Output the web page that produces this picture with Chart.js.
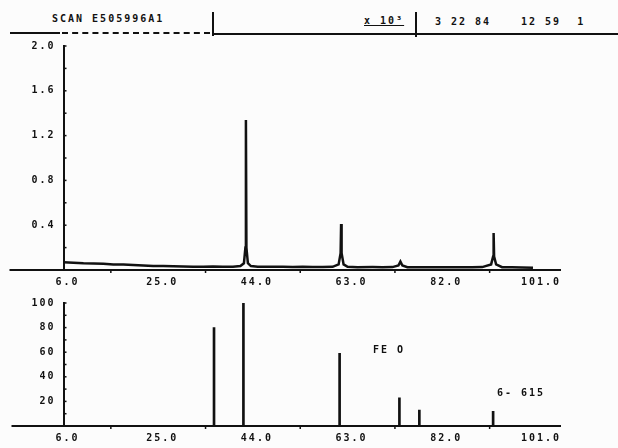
<!DOCTYPE html>
<html>
<head>
<meta charset="utf-8">
<script src="https://cdn.jsdelivr.net/npm/chart.js@4"></script>
<style>
body{margin:0;background:#fcfcfc;width:618px;height:448px;position:relative;overflow:hidden;
  font:bold 10px "DejaVu Sans Mono",monospace;color:#111;letter-spacing:2px}
.t{position:absolute;white-space:pre;line-height:10px}
.r{position:absolute;background:#111}
canvas{position:absolute;left:0}
</style>
</head>
<body>
<div class="t" style="left:52px;top:14px">SCAN E505996A1</div>
<div class="r" style="left:10px;top:32px;width:50px;height:2px"></div>
<div style="position:absolute;left:62px;top:32px;width:148px;border-top:2px dashed #111"></div>
<div class="r" style="left:212px;top:12px;width:2px;height:24px"></div>
<div class="r" style="left:213px;top:33px;width:405px;height:2px"></div>
<div class="t" style="left:364px;top:16px;text-decoration:underline">x 10³</div>
<div class="r" style="left:415px;top:12px;width:2px;height:25px"></div>
<div class="t" style="left:435px;top:17px">3 22 84</div>
<div class="t" style="left:521px;top:17px">12 59  1</div>

<canvas id="scanChart" width="618" height="300" style="top:0"></canvas>
<canvas id="refChart" width="618" height="186" style="top:262px"></canvas>

<div class="t" style="left:373px;top:345px">FE O</div>
<div class="t" style="left:497px;top:388px">6- 615</div>

<script>
"use strict";

// 1: data
const scanAngles = [6, 8, 10, 12, 14, 16, 18, 20, 22, 24, 26, 28, 30, 32, 34, 36, 38, 40, 41.5, 42.2, 42.5, 42.6, 42.7, 43.0, 43.6,
	45, 48, 50, 52, 54, 56, 58, 60, 61.2, 61.6, 61.7, 61.8, 62.2, 63, 65, 68, 70, 72, 73.2, 73.6, 74.0, 75,
	78, 80, 82, 85, 88, 90, 91.8, 92.2, 92.3, 92.4, 92.8, 94, 96, 98, 100.2];
const scanCounts = [0.07, 0.065, 0.06, 0.058, 0.055, 0.05, 0.048, 0.045, 0.04, 0.035, 0.035, 0.033, 0.032, 0.03, 0.03, 0.032, 0.03, 0.03, 0.035, 0.06, 0.2, 1.34, 0.2, 0.06, 0.035,
	0.03, 0.028, 0.03, 0.027, 0.028, 0.026, 0.027, 0.028, 0.05, 0.15, 0.41, 0.15, 0.05, 0.028, 0.025, 0.026, 0.025, 0.026, 0.04, 0.075, 0.04, 0.025,
	0.024, 0.025, 0.024, 0.025, 0.024, 0.026, 0.05, 0.12, 0.33, 0.12, 0.05, 0.025, 0.024, 0.023, 0.02];

const refAngles = [36.2, 42.1, 61.4, 73.4, 77.4, 92.2];
const refIntensity = [80, 100, 59, 23, 13, 12];

const xTicks = [6, 25, 44, 63, 82, 101];
const scanTicks = [0.4, 0.8, 1.2, 1.6, 2.0];
const refTicks = [20, 40, 60, 80, 100];

// 2: shared bits
const ink = '#111';
const tickFont = { family: 'DejaVu Sans Mono', weight: 'bold', size: 10 };

const letterSpacing = {
	id: 'letterSpacing',
	beforeDraw(chart) {
		chart.ctx.letterSpacing = '2px';
	}
};

// small tick marks like the plotter drew them, and the axis stub left of the y axis
const minorTicks = {
	id: 'minorTicks',
	afterDraw(chart, args, opts) {
		const { ctx, chartArea, scales: { x, y } } = chart;
		const x0 = x.getPixelForValue(6);
		const y0 = y.getPixelForValue(0);
		ctx.save();
		ctx.strokeStyle = ink;
		ctx.lineWidth = 2;
		ctx.beginPath();
		ctx.moveTo(chartArea.left - opts.stub, y0);
		ctx.lineTo(chartArea.left, y0);
		ctx.stroke();
		ctx.lineWidth = 1.5;
		for (let v = opts.yStep; v <= y.max + 1e-9; v += opts.yStep) {
			const py = y.getPixelForValue(v);
			ctx.beginPath();
			ctx.moveTo(x0, py);
			ctx.lineTo(x0 + 3, py);
			ctx.stroke();
		}
		for (let v = 15.5; v < 101; v += 19) {
			const px = x.getPixelForValue(v);
			ctx.beginPath();
			ctx.moveTo(px, y0);
			ctx.lineTo(px, y0 + 3);
			ctx.stroke();
		}
		ctx.restore();
	}
};

function xScale() {
	return {
		type: 'linear',
		min: 6,
		max: 105.62,
		offset: false,
		position: { y: 0 },
		afterBuildTicks: s => { s.ticks = xTicks.map(v => ({ value: v })); },
		grid: { display: false, drawTicks: false, offset: false },
		border: { color: ink, width: 2 },
		ticks: {
			color: ink, font: tickFont, padding: 6, labelOffset: 4,
			maxRotation: 0, minRotation: 0, autoSkip: false,
			callback: v => v.toFixed(1)
		}
	};
}

function yScale(max, ticks, digits) {
	return {
		type: 'linear',
		min: 0,
		max: max,
		position: 'left',
		afterFit: s => { s.width = 53.5; },
		afterBuildTicks: s => { s.ticks = ticks.map(v => ({ value: v })); },
		grid: { display: false, drawTicks: false },
		border: { color: ink, width: 2 },
		ticks: {
			color: ink, font: tickFont, padding: 8, autoSkip: false,
			callback: v => v.toFixed(digits)
		}
	};
}

// 3: measured scan
new Chart(document.querySelector('#scanChart'), {
	type: 'line',
	data: {
		datasets: [{
			data: scanAngles.map((a, i) => ({ x: a, y: scanCounts[i] })),
			borderColor: ink,
			borderWidth: 2.5,
			pointRadius: 0,
			tension: 0
		}]
	},
	options: {
		responsive: false,
		animation: false,
		devicePixelRatio: 1,
		layout: { padding: { left: 10, right: 58, top: 46, bottom: 30 } },
		plugins: { legend: { display: false }, tooltip: { enabled: false }, minorTicks: { yStep: 0.2, stub: 54 } },
		scales: { x: xScale(), y: yScale(2.0, scanTicks, 1) }
	},
	plugins: [letterSpacing, minorTicks]
});

// 4: reference pattern sticks
new Chart(document.querySelector('#refChart'), {
	type: 'bar',
	data: {
		datasets: [{
			data: refAngles.map((a, i) => ({ x: a, y: refIntensity[i] })),
			backgroundColor: ink,
			barThickness: 2
		}]
	},
	options: {
		responsive: false,
		animation: false,
		devicePixelRatio: 1,
		layout: { padding: { left: 10, right: 58, top: 41, bottom: 22 } },
		plugins: { legend: { display: false }, tooltip: { enabled: false }, minorTicks: { yStep: 10, stub: 52 } },
		scales: { x: xScale(), y: yScale(100, refTicks, 0) }
	},
	plugins: [letterSpacing, minorTicks]
});
</script>
</body>
</html>
